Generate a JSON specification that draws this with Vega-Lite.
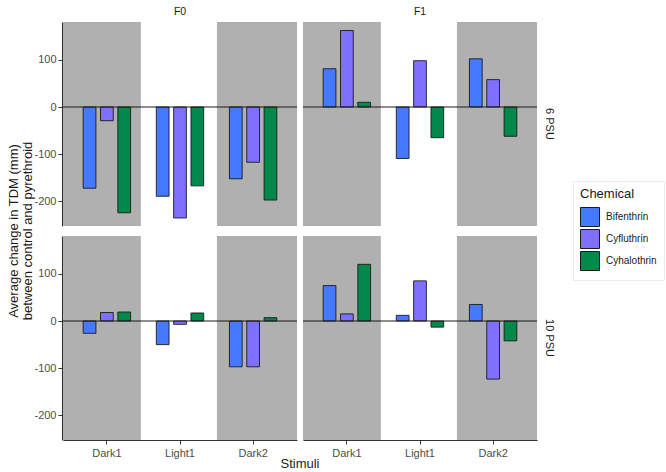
{
  "$schema": "https://vega.github.io/schema/vega-lite/v6.json",
  "padding": {"left": 7, "top": 6, "right": 0, "bottom": 0},
  "config": {
    "font": "Liberation Sans",
    "view": {"stroke": null},
    "axis": {"grid": false, "domainColor": "#333333", "domainWidth": 1.1, "tickColor": "#333333", "tickSize": 4, "labelPadding": 2, "labelColor": "#4d4d4d", "labelFontSize": 11, "titleFontWeight": "normal"},
    "legend": {"titleFontWeight": "normal"}
  },
  "data": {"values": [
    {"gen": "F0", "psu": "6 PSU", "stim": "Dark1", "chem": "Bifenthrin", "value": -172},
    {"gen": "F0", "psu": "6 PSU", "stim": "Dark1", "chem": "Cyfluthrin", "value": -29},
    {"gen": "F0", "psu": "6 PSU", "stim": "Dark1", "chem": "Cyhalothrin", "value": -224},
    {"gen": "F0", "psu": "6 PSU", "stim": "Light1", "chem": "Bifenthrin", "value": -189},
    {"gen": "F0", "psu": "6 PSU", "stim": "Light1", "chem": "Cyfluthrin", "value": -235},
    {"gen": "F0", "psu": "6 PSU", "stim": "Light1", "chem": "Cyhalothrin", "value": -167},
    {"gen": "F0", "psu": "6 PSU", "stim": "Dark2", "chem": "Bifenthrin", "value": -152},
    {"gen": "F0", "psu": "6 PSU", "stim": "Dark2", "chem": "Cyfluthrin", "value": -117},
    {"gen": "F0", "psu": "6 PSU", "stim": "Dark2", "chem": "Cyhalothrin", "value": -197},
    {"gen": "F1", "psu": "6 PSU", "stim": "Dark1", "chem": "Bifenthrin", "value": 81},
    {"gen": "F1", "psu": "6 PSU", "stim": "Dark1", "chem": "Cyfluthrin", "value": 162},
    {"gen": "F1", "psu": "6 PSU", "stim": "Dark1", "chem": "Cyhalothrin", "value": 10},
    {"gen": "F1", "psu": "6 PSU", "stim": "Light1", "chem": "Bifenthrin", "value": -109},
    {"gen": "F1", "psu": "6 PSU", "stim": "Light1", "chem": "Cyfluthrin", "value": 98},
    {"gen": "F1", "psu": "6 PSU", "stim": "Light1", "chem": "Cyhalothrin", "value": -65},
    {"gen": "F1", "psu": "6 PSU", "stim": "Dark2", "chem": "Bifenthrin", "value": 102},
    {"gen": "F1", "psu": "6 PSU", "stim": "Dark2", "chem": "Cyfluthrin", "value": 58},
    {"gen": "F1", "psu": "6 PSU", "stim": "Dark2", "chem": "Cyhalothrin", "value": -62},
    {"gen": "F0", "psu": "10 PSU", "stim": "Dark1", "chem": "Bifenthrin", "value": -26},
    {"gen": "F0", "psu": "10 PSU", "stim": "Dark1", "chem": "Cyfluthrin", "value": 18},
    {"gen": "F0", "psu": "10 PSU", "stim": "Dark1", "chem": "Cyhalothrin", "value": 19},
    {"gen": "F0", "psu": "10 PSU", "stim": "Light1", "chem": "Bifenthrin", "value": -50},
    {"gen": "F0", "psu": "10 PSU", "stim": "Light1", "chem": "Cyfluthrin", "value": -7},
    {"gen": "F0", "psu": "10 PSU", "stim": "Light1", "chem": "Cyhalothrin", "value": 17},
    {"gen": "F0", "psu": "10 PSU", "stim": "Dark2", "chem": "Bifenthrin", "value": -97},
    {"gen": "F0", "psu": "10 PSU", "stim": "Dark2", "chem": "Cyfluthrin", "value": -97},
    {"gen": "F0", "psu": "10 PSU", "stim": "Dark2", "chem": "Cyhalothrin", "value": 7},
    {"gen": "F1", "psu": "10 PSU", "stim": "Dark1", "chem": "Bifenthrin", "value": 75},
    {"gen": "F1", "psu": "10 PSU", "stim": "Dark1", "chem": "Cyfluthrin", "value": 15},
    {"gen": "F1", "psu": "10 PSU", "stim": "Dark1", "chem": "Cyhalothrin", "value": 120},
    {"gen": "F1", "psu": "10 PSU", "stim": "Light1", "chem": "Bifenthrin", "value": 12},
    {"gen": "F1", "psu": "10 PSU", "stim": "Light1", "chem": "Cyfluthrin", "value": 85},
    {"gen": "F1", "psu": "10 PSU", "stim": "Light1", "chem": "Cyhalothrin", "value": -13},
    {"gen": "F1", "psu": "10 PSU", "stim": "Dark2", "chem": "Bifenthrin", "value": 35},
    {"gen": "F1", "psu": "10 PSU", "stim": "Dark2", "chem": "Cyfluthrin", "value": -123},
    {"gen": "F1", "psu": "10 PSU", "stim": "Dark2", "chem": "Cyhalothrin", "value": -42}
  ]},
  "facet": {
    "column": {"field": "gen", "type": "nominal", "sort": ["F0", "F1"], "title": "Stimuli",
      "header": {"labelOrient": "top", "titleOrient": "bottom", "labelFontSize": 10.5, "labelColor": "#1a1a1a", "labelPadding": 5, "titleFontSize": 13, "titleFontWeight": "normal", "titleColor": "#1a1a1a", "titlePadding": -10}},
    "row": {"field": "psu", "type": "nominal", "sort": ["6 PSU", "10 PSU"], "title": ["Average change in TDM (mm)", "between control and pyrethroid"],
      "header": {"labelOrient": "right", "labelAngle": 90, "labelFontSize": 11, "labelColor": "#1a1a1a", "labelPadding": 6, "titleOrient": "left", "titleFontSize": 13, "titleFontWeight": "normal", "titleColor": "#1a1a1a", "titlePadding": -12, "titleLineHeight": 14}}
  },
  "spacing": {"column": 4, "row": 10},
  "spec": {
    "width": 234,
    "height": 204,
    "layer": [
      {
        "transform": [{"filter": "datum.stim == 'Dark1' && datum.chem == 'Bifenthrin'"}],
        "mark": {"type": "rect", "color": "#b0b0b0"},
        "encoding": {
          "x": {"field": "stim", "type": "nominal", "sort": ["Dark1", "Light1", "Dark2"], "bandPosition": -0.1, "scale": {"paddingInner": 0, "paddingOuter": 0.1}, "axis": {"title": null, "labelAngle": 0, "labelPadding": 3}},
          "x2": {"field": "stim", "bandPosition": 0.965},
          "y": {"value": 0},
          "y2": {"value": "height"}
        }
      },
      {
        "transform": [{"filter": "datum.stim == 'Dark2' && datum.chem == 'Bifenthrin'"}],
        "mark": {"type": "rect", "color": "#b0b0b0"},
        "encoding": {
          "x": {"field": "stim", "type": "nominal", "sort": ["Dark1", "Light1", "Dark2"], "bandPosition": 0.005},
          "x2": {"field": "stim", "bandPosition": 1.1},
          "y": {"value": 0},
          "y2": {"value": "height"}
        }
      },
      {
        "mark": {"type": "bar", "stroke": "#1a1a1a", "strokeWidth": 0.9},
        "encoding": {
          "x": {"field": "stim", "type": "nominal", "sort": ["Dark1", "Light1", "Dark2"]},
          "xOffset": {"field": "chem", "type": "nominal", "sort": ["Bifenthrin", "Cyfluthrin", "Cyhalothrin"], "scale": {"paddingInner": 0.266, "paddingOuter": 0.743}},
          "y": {"field": "value", "type": "quantitative", "scale": {"domain": [-252, 180], "nice": false, "zero": false}, "axis": {"title": null, "values": [-200, -100, 0, 100], "labelExpr": "'' + datum.value"}},
          "color": {"field": "chem", "type": "nominal", "title": "Chemical", "sort": ["Bifenthrin", "Cyfluthrin", "Cyhalothrin"],
            "scale": {"domain": ["Bifenthrin", "Cyfluthrin", "Cyhalothrin"], "range": ["#4579ff", "#8070ff", "#00894a"]},
            "legend": {"orient": "none", "legendX": 510, "legendY": 159, "symbolType": "square", "symbolSize": 361, "symbolStrokeColor": "#1a1a1a", "symbolStrokeWidth": 1, "symbolOpacity": 1, "labelFontSize": 10, "labelColor": "#1a1a1a", "labelOffset": 6, "titleFontSize": 13, "titleColor": "#1a1a1a", "rowPadding": -8, "padding": 7, "fillColor": "white", "strokeColor": "#ebebeb", "titlePadding": 6}}
        }
      },
      {
        "transform": [{"filter": "datum.stim == 'Dark1' && datum.chem == 'Bifenthrin'"}],
        "mark": {"type": "rule", "color": "#1a1a1a", "strokeWidth": 1},
        "encoding": {"y": {"datum": 0}}
      }
    ]
  }
}
